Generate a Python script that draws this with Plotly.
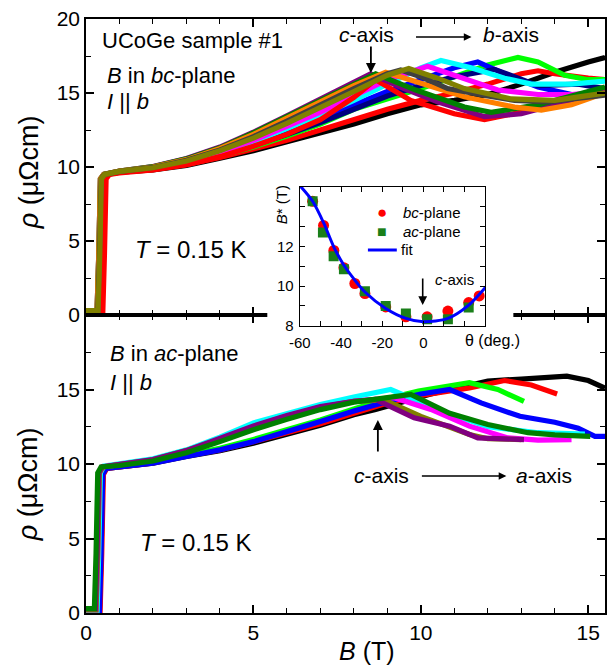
import plotly.graph_objects as go

# ---------------- data: top panel (B in bc-plane) ----------------
bc_black_B = [0, 0.42, 0.47, 0.52, 0.6, 1, 2, 3, 4, 5, 6, 7, 8, 9, 10, 11, 12, 13, 14, 15, 15.5]
bc_black_r = [0.3, 0.3, 4, 9.2, 9.5, 9.65, 9.8, 10.1, 10.6, 11.1, 11.7, 12.3, 12.9, 13.6, 14.2, 14.5, 14.9, 15.6, 16.4, 17.1, 17.4]
bc_red_B = [0, 0.45, 0.5, 0.55, 0.65, 1, 2, 3, 4, 5, 6, 7, 8, 9, 10, 11, 12, 13, 13.5, 14, 15, 15.5]
bc_red_r = [0, 0, 4, 9.2, 9.5, 9.65, 9.82, 10.15, 10.65, 11.2, 11.8, 12.5, 13.2, 13.9, 14.5, 15.0, 15.6, 16.3, 16.5, 16.3, 16.0, 15.9]
bc_lime_B = [0, 0.4, 0.45, 0.5, 0.6, 1, 2, 3, 4, 5, 6, 7, 8, 9, 10, 11, 12, 12.9, 13.5, 14.3, 15, 15.5]
bc_lime_r = [0.2, 0.2, 4, 9.2, 9.5, 9.67, 9.85, 10.2, 10.75, 11.35, 12.1, 12.9, 13.9, 14.6, 15.3, 16.1, 16.9, 17.4, 17.1, 16.2, 15.9, 15.9]
bc_blue_B = [0, 0.4, 0.45, 0.5, 0.6, 1, 2, 3, 4, 5, 6, 7, 8, 9, 10, 11, 11.7, 12.5, 13.5, 14.7, 15.5]
bc_blue_r = [0.2, 0.2, 4, 9.2, 9.5, 9.68, 9.87, 10.25, 10.85, 11.5, 12.3, 13.2, 14.2, 15.1, 15.9, 16.7, 17.1, 16.3, 15.4, 14.8, 15.3]
bc_navy_B = [0, 0.4, 0.45, 0.5, 0.6, 1, 2, 3, 4, 5, 6, 7, 8, 9, 10, 11, 12.2, 13.5, 14.7, 15.5]
bc_navy_r = [0.2, 0.2, 4, 9.2, 9.5, 9.67, 9.86, 10.22, 10.8, 11.45, 12.2, 13.0, 13.9, 14.8, 15.5, 16.1, 16.6, 15.5, 15.6, 15.3]
bc_cyan_B = [0, 0.38, 0.43, 0.48, 0.58, 1, 2, 3, 4, 5, 6, 7, 8, 9, 10, 10.6, 11.5, 12.5, 13.3, 14.5, 15.5]
bc_cyan_r = [0.2, 0.2, 4, 9.2, 9.5, 9.7, 9.9, 10.3, 10.95, 11.7, 12.6, 13.5, 14.5, 15.6, 16.7, 17.2, 16.7, 16.0, 15.6, 15.6, 15.8]
bc_magenta_B = [0, 0.38, 0.43, 0.48, 0.58, 1, 2, 3, 4, 5, 6, 7, 8, 9, 10.2, 11, 12.3, 13.5, 14.5, 15.5]
bc_magenta_r = [0.2, 0.2, 4, 9.2, 9.5, 9.7, 9.92, 10.35, 11.0, 11.8, 12.75, 13.7, 14.8, 15.9, 16.8, 16.2, 15.2, 14.9, 14.9, 15.1]
bc_redc_B = [0, 0.5, 0.55, 0.6, 0.7, 1, 2, 3, 4, 5, 6, 7, 8, 8.65, 9.7, 11, 11.9, 13.3, 14.5, 15.5]
bc_redc_r = [0, 0, 4, 9.2, 9.5, 9.6, 9.8, 10.15, 10.7, 11.4, 12.2, 13.2, 14.7, 15.9, 14.5, 13.6, 13.2, 13.85, 14.6, 15.2]
bc_purple_B = [0, 0.33, 0.38, 0.43, 0.53, 1, 2, 3, 4, 5, 6, 7, 8, 8.5, 9.5, 10.5, 11.9, 13, 14.3, 15.5]
bc_purple_r = [0.3, 0.3, 4, 9.2, 9.5, 9.72, 10.03, 10.57, 11.35, 12.35, 13.45, 14.6, 15.7, 16.3, 15.3, 14.4, 13.4, 13.6, 14.4, 15.2]
bc_dgreen_B = [0, 0.33, 0.38, 0.43, 0.53, 1, 2, 3, 4, 5, 6, 7, 8, 8.65, 9.85, 11.3, 12.1, 13.5, 14.5, 15.5]
bc_dgreen_r = [0.3, 0.3, 4, 9.2, 9.5, 9.72, 10.02, 10.55, 11.3, 12.3, 13.4, 14.5, 15.6, 16.3, 15.2, 14.05, 13.7, 14.2, 14.8, 15.4]
bc_orange_B = [0, 0.33, 0.38, 0.43, 0.53, 1, 2, 3, 4, 5, 6, 7, 8, 8.95, 9.85, 11.3, 12.8, 13.6, 14.5, 15.5]
bc_orange_r = [0.3, 0.3, 4, 9.2, 9.5, 9.72, 10.0, 10.5, 11.25, 12.2, 13.3, 14.4, 15.5, 16.4, 15.8, 14.75, 14.05, 13.85, 14.2, 15.0]
bc_gray_B = [0, 0.35, 0.4, 0.45, 0.55, 1, 2, 3, 4, 5, 6, 7, 8, 9, 9.4, 10, 10.8, 12, 12.8, 13.8, 15.5]
bc_gray_r = [0.3, 0.3, 4, 9.2, 9.5, 9.7, 9.97, 10.45, 11.15, 12.05, 13.1, 14.2, 15.3, 16.3, 16.55, 16.1, 15.3, 14.8, 14.5, 14.4, 14.85]
bc_olive_B = [0, 0.36, 0.41, 0.46, 0.56, 1, 2, 3, 4, 5, 6, 7, 8, 9, 9.64, 10.5, 11.3, 12.7, 14, 15.5]
bc_olive_r = [0.3, 0.3, 4, 9.2, 9.5, 9.7, 9.95, 10.4, 11.1, 11.95, 12.95, 14.0, 15.1, 16.2, 16.66, 16.0, 15.3, 14.6, 14.5, 15.0]

# ---------------- data: bottom panel (B in ac-plane) ----------------
ac_black_B = [0, 0.4, 0.45, 0.5, 0.6, 1, 2, 3, 4, 5, 6, 7, 8, 8.65, 10.3, 12, 13, 14.36, 15, 15.5]
ac_black_r = [0, 0, 4, 9.3, 9.7, 9.8, 10.05, 10.5, 10.9, 11.4, 12.0, 12.6, 13.3, 13.66, 14.7, 15.57, 15.7, 15.9, 15.6, 15.1]
ac_red_B = [0, 0.42, 0.47, 0.52, 0.62, 1, 2, 3, 4, 5, 6, 7, 8, 9, 10, 11.45, 12.5, 13.3, 14.07]
ac_red_r = [0, 0, 4, 9.3, 9.7, 9.8, 10.07, 10.55, 10.95, 11.5, 12.1, 12.7, 13.4, 14.1, 14.6, 15.1, 15.6, 15.3, 14.7]
ac_lime_B = [0, 0.38, 0.43, 0.48, 0.58, 1, 2, 3, 4, 5, 6, 7, 8, 9, 9.93, 11.45, 12.3, 13.08]
ac_lime_r = [0, 0, 4, 9.3, 9.75, 9.85, 10.1, 10.6, 11.05, 11.65, 12.3, 12.95, 13.7, 14.4, 14.9, 15.46, 15.0, 14.2]
ac_blue_B = [0, 0.4, 0.45, 0.5, 0.6, 1, 2, 3, 4, 5, 6, 7, 8, 9, 10, 10.86, 11.8, 12.96, 14.0, 14.7, 15.2, 15.5]
ac_blue_r = [0, 0, 4, 9.3, 9.7, 9.8, 10.05, 10.5, 10.95, 11.5, 12.15, 12.85, 13.55, 14.2, 14.7, 15.0, 14.1, 13.2, 12.8, 12.4, 11.86, 11.86]
ac_cyan_B = [0, 0.33, 0.38, 0.43, 0.53, 1, 2, 3, 4, 5, 6, 7, 8, 9.1, 10.5, 12, 13.5, 14.9]
ac_cyan_r = [0, 0, 4, 9.4, 9.85, 10.0, 10.35, 10.95, 11.8, 12.76, 13.4, 14.0, 14.5, 15.0, 13.66, 12.5, 12.1, 12.0]
ac_magenta_B = [0, 0.3, 0.35, 0.4, 0.5, 1, 2, 3, 4, 5, 6, 7, 8, 9.2, 10.3, 11.45, 12.6, 13.5, 14.5]
ac_magenta_r = [0.2, 0.2, 4, 9.4, 9.8, 9.95, 10.25, 10.85, 11.6, 12.45, 13.15, 13.75, 14.2, 14.45, 13.66, 12.54, 11.75, 11.6, 11.64]
ac_olive_B = [0, 0.3, 0.35, 0.4, 0.5, 1, 2, 3, 4, 5, 6, 7, 8, 8.9, 10, 11.45, 12, 13.0]
ac_olive_r = [0.2, 0.2, 4, 9.4, 9.8, 9.95, 10.28, 10.9, 11.65, 12.5, 13.2, 13.8, 14.2, 14.3, 13.2, 11.98, 11.7, 11.64]
ac_purple_B = [0, 0.28, 0.33, 0.38, 0.48, 1, 2, 3, 4, 5, 6, 7, 8, 8.65, 9.0, 9.8, 10.86, 11.7, 13.08]
ac_purple_r = [0.3, 0.3, 4, 9.4, 9.8, 9.95, 10.3, 10.9, 11.7, 12.55, 13.25, 13.85, 14.2, 14.34, 13.95, 13.1, 12.54, 11.75, 11.64]
ac_dgreen_B = [0, 0.25, 0.3, 0.35, 0.45, 1, 2, 3, 4, 5, 6, 7, 8, 9, 9.7, 10.86, 12, 13.2, 14, 15.06]
ac_dgreen_r = [0.3, 0.3, 4, 9.4, 9.8, 9.9, 10.2, 10.75, 11.5, 12.3, 13.0, 13.65, 14.15, 14.5, 14.67, 13.4, 12.65, 12.1, 11.95, 11.86]

# ---------------- data: inset B*(theta) ----------------
inset_bc_theta = [-53.8, -48.5, -43.5, -38.6, -33.3, -28.4, -18.3, -8.5, 1.8, 11.9, 22, 27.1]
inset_bc_Bstar = [14.28, 13.06, 11.8, 10.93, 10.13, 9.62, 8.95, 8.45, 8.45, 8.74, 9.17, 9.5]
inset_ac_theta = [-53.8, -48.8, -43.6, -38.6, -28.4, -18.3, -8.5, 1.8, 11.9, 22]
inset_ac_Bstar = [14.28, 12.7, 11.5, 10.85, 9.74, 8.99, 8.62, 8.32, 8.32, 8.92]
fit_theta = [-60, -53.8, -48.5, -43.5, -38.6, -33.3, -28.4, -18.3, -8.5, 0, 11.9, 22, 31]
fit_Bstar = [15.07, 14.28, 13.2, 11.97, 11.05, 10.3, 9.7, 8.87, 8.37, 8.2, 8.37, 9.04, 10.04]
legend_labels = ["<i>bc</i>-plane", "<i>ac</i>-plane", "fit"]

main_xticks = [0, 5, 10, 15]
top_yticks = [0, 5, 10, 15, 20]
bot_yticks = [0, 5, 10, 15]
inset_xticks = [-60, -50, -40, -30, -20, -10, 0, 10, 20]
inset_xtext = ["-60", "", "-40", "", "-20", "", "0", "", ""]
inset_yticks = [8, 9, 10, 11, 12, 13, 14, 15]
inset_ytext = ["8", "", "10", "", "12", "", "", ""]

# ---------------- styling ----------------
FONT = "Liberation Sans, Arial, sans-serif"
C = dict(black="#000000", red="#ff0000", lime="#00ff00", blue="#0000ff", navy="#000080",
         cyan="#00ffff", magenta="#ff00ff", purple="#800080", dgreen="#008000",
         orange="#ff8000", gray="#404040", olive="#808000")
INSET_RED = "#ff0000"
INSET_GREEN = "#1a7f1a"
INSET_BLUE = "#0000ff"
LW = 5.2

# plot area in pixels: x 86..607, y 19..613
def px(x):
    return (x - 86) / 521.0

def py(y):
    return (613 - y) / 594.0

fig = go.Figure()

top_series = [
    (bc_black_B, bc_black_r, "black"), (bc_red_B, bc_red_r, "red"), (bc_lime_B, bc_lime_r, "lime"),
    (bc_blue_B, bc_blue_r, "blue"), (bc_navy_B, bc_navy_r, "navy"), (bc_cyan_B, bc_cyan_r, "cyan"),
    (bc_magenta_B, bc_magenta_r, "magenta"), (bc_redc_B, bc_redc_r, "red"),
    (bc_purple_B, bc_purple_r, "purple"), (bc_dgreen_B, bc_dgreen_r, "dgreen"),
    (bc_orange_B, bc_orange_r, "orange"), (bc_gray_B, bc_gray_r, "gray"), (bc_olive_B, bc_olive_r, "olive"),
]
for bx, ry, c in top_series:
    fig.add_trace(go.Scatter(x=bx, y=ry, mode="lines", line=dict(color=C[c], width=LW),
                             xaxis="x", yaxis="y", showlegend=False, hoverinfo="skip"))

bot_series = [
    (ac_black_B, ac_black_r, "black"), (ac_red_B, ac_red_r, "red"), (ac_lime_B, ac_lime_r, "lime"),
    (ac_blue_B, ac_blue_r, "blue"), (ac_cyan_B, ac_cyan_r, "cyan"), (ac_magenta_B, ac_magenta_r, "magenta"),
    (ac_olive_B, ac_olive_r, "olive"), (ac_purple_B, ac_purple_r, "purple"), (ac_dgreen_B, ac_dgreen_r, "dgreen"),
]
for bx, ry, c in bot_series:
    fig.add_trace(go.Scatter(x=bx, y=ry, mode="lines", line=dict(color=C[c], width=LW),
                             xaxis="x2", yaxis="y2", showlegend=False, hoverinfo="skip"))

# white backing subplot for the inset (covers the shared border under it)
fig.add_trace(go.Scatter(x=[0], y=[0], mode="markers", marker=dict(opacity=0),
                         xaxis="x3", yaxis="y3", showlegend=False, hoverinfo="skip"))

# inset
fig.add_trace(go.Scatter(x=inset_bc_theta, y=inset_bc_Bstar, mode="markers", name=legend_labels[0],
                         marker=dict(symbol="circle", size=11, color=INSET_RED),
                         xaxis="x4", yaxis="y4", showlegend=False))
fig.add_trace(go.Scatter(x=inset_ac_theta, y=inset_ac_Bstar, mode="markers", name=legend_labels[1],
                         marker=dict(symbol="square", size=10, color=INSET_GREEN),
                         xaxis="x4", yaxis="y4", showlegend=False))
fig.add_trace(go.Scatter(x=fit_theta, y=fit_Bstar, mode="lines", name=legend_labels[2],
                         line=dict(color=INSET_BLUE, width=3, shape="spline", smoothing=0.8),
                         xaxis="x4", yaxis="y4", showlegend=False))

axis_common = dict(showline=True, linecolor="black", linewidth=1.6, mirror="ticks",
                   ticks="inside", ticklen=8, tickwidth=1.6, tickcolor="black",
                   showgrid=False, zeroline=False, tickfont=dict(family=FONT, size=21, color="black"))
ydom_split = py(315)

fig.update_layout(
    width=613, height=667,
    margin=dict(l=86, r=6, t=19, b=54),
    paper_bgcolor="white", plot_bgcolor="white",
    font=dict(family=FONT, color="black"),
    showlegend=False,
    xaxis=dict(domain=[0, 1], anchor="y", range=[0, 15.5], tickvals=main_xticks, showticklabels=False,
               minor=dict(dtick=1, ticks="inside", ticklen=5, tickwidth=1.4, tickcolor="black"), **axis_common),
    yaxis=dict(domain=[ydom_split, 1], anchor="x", range=[0, 20], tickvals=top_yticks,
               minor=dict(dtick=2.5, ticks="inside", ticklen=5, tickwidth=1.4, tickcolor="black"), **axis_common),
    xaxis2=dict(domain=[0, 1], anchor="y2", range=[0, 15.5], tickvals=main_xticks,
                minor=dict(dtick=1, ticks="inside", ticklen=5, tickwidth=1.4, tickcolor="black"), **axis_common),
    yaxis2=dict(domain=[0, ydom_split], anchor="x2", range=[0, 20], tickvals=bot_yticks,
                minor=dict(dtick=2.5, ticks="inside", ticklen=5, tickwidth=1.4, tickcolor="black"), **axis_common),
    xaxis3=dict(domain=[px(268), px(515)], anchor="y3", range=[0, 1], visible=False),
    yaxis3=dict(domain=[py(348), py(182)], anchor="x3", range=[0, 1], visible=False),
    xaxis4=dict(domain=[px(300.7), px(486.7)], anchor="y4", range=[-60, 30],
                tickvals=inset_xticks, ticktext=inset_xtext, ticklabelstandoff=3,
                showline=True, linecolor="black", linewidth=1.4, mirror="ticks", ticks="inside",
                ticklen=5, tickwidth=1.3, tickcolor="black", showgrid=False, zeroline=False,
                tickfont=dict(family=FONT, size=15, color="black")),
    yaxis4=dict(domain=[py(325.7), py(187)], anchor="x4", range=[8, 15],
                tickvals=inset_yticks, ticktext=inset_ytext, ticklabelstandoff=2,
                showline=True, linecolor="black", linewidth=1.4, mirror="ticks", ticks="inside",
                ticklen=5, tickwidth=1.3, tickcolor="black", showgrid=False, zeroline=False,
                tickfont=dict(family=FONT, size=15, color="black")),
)

ann = []

def text(x, y, s, size=22, xanchor="left", angle=0, color="black"):
    ann.append(dict(x=px(x), y=py(y), xref="paper", yref="paper", text=s, showarrow=False,
                    xanchor=xanchor, yanchor="middle", textangle=angle,
                    font=dict(family=FONT, size=size, color=color)))

def arrow(x_head, y_head, dx, dy, width=1.6, head=2):
    ann.append(dict(x=px(x_head), y=py(y_head), xref="paper", yref="paper", text="",
                    showarrow=True, ax=dx, ay=dy, axref="pixel", ayref="pixel",
                    arrowhead=head, arrowsize=1.1, arrowwidth=width, arrowcolor="black"))

# top panel texts
text(100, 40, "UCoGe sample #1", 22)
text(105, 75, "<i>B</i> in <i>bc</i>-plane", 22)
text(105, 101, "<i>I</i> || <i>b</i>", 22)
text(133, 250, "<i>T</i> = 0.15 K", 24)
text(368, 35, "<i>c</i>-axis", 21, "center")
text(513, 35, "<i>b</i>-axis", 21, "center")
arrow(473, 37, -57, 0, 1.4)
arrow(372, 73, 0, -28, 1.8)

# bottom panel texts
text(108, 353, "<i>B</i> in <i>ac</i>-plane", 22)
text(108, 382, "<i>I</i> || <i>b</i>", 22)
text(138, 542, "<i>T</i> = 0.15 K", 24)
text(383, 475, "<i>c</i>-axis", 21, "center")
text(546, 475, "<i>a</i>-axis", 21, "center")
arrow(508, 476, -86, 0, 1.4)
arrow(379, 420, 0, 33, 1.8)

# axis titles
text(29, 172, "<i>ρ</i> (μΩcm)", 27, "center", -90)
text(28, 484, "<i>ρ</i> (μΩcm)", 27, "center", -90)
text(368, 651, "<i>B</i> (T)", 25, "center")

# inset texts
text(282, 205, "<i>B</i>* (T)", 15, "center", -90)
text(494, 340, "θ (deg.)", 16, "center")
text(456, 279, "<i>c</i>-axis", 15, "center")
arrow(424, 305, 0, -28, 1.6)

# inset legend (symbols as glyphs + labels)
text(383, 212, "●", 17, "center", color=INSET_RED)
text(383, 231, "■", 16, "center", color=INSET_GREEN)
text(402, 212, legend_labels[0], 15)
text(402, 231, legend_labels[1], 15)
text(400, 250, legend_labels[2], 15)

fig.update_layout(annotations=ann, shapes=[
    dict(type="line", xref="paper", yref="paper", x0=px(369), x1=px(398), y0=py(250), y1=py(250),
         line=dict(color=INSET_BLUE, width=3))
])
fig.write_html("out.html", config={"displayModeBar": False},
               post_script="document.body.style.margin='0';document.body.style.overflow='hidden';")
